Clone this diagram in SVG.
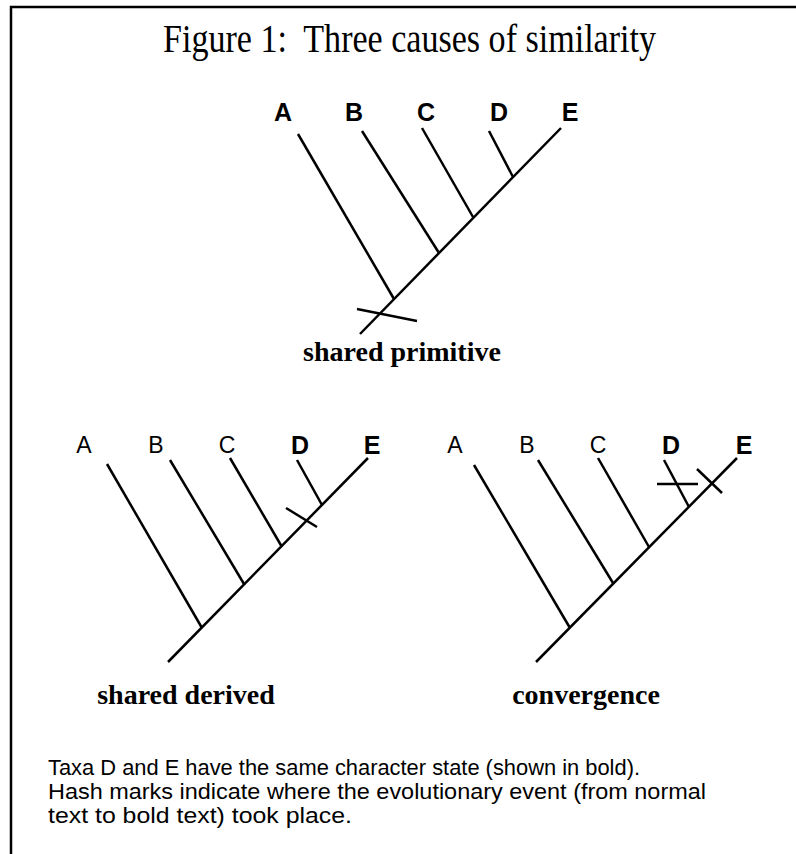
<svg xmlns="http://www.w3.org/2000/svg" width="796" height="854" viewBox="0 0 796 854">
<style>
.br{stroke:#000;stroke-width:2.5;fill:none;stroke-linecap:butt}
.frame{stroke:#000;stroke-width:2.5;fill:none}
.lb{font-family:"Liberation Sans",Arial,sans-serif;font-size:25px;font-weight:bold;text-anchor:middle}
.ln{font-family:"Liberation Sans",Arial,sans-serif;font-size:23px;text-anchor:middle}
.cap{font-family:"Liberation Serif","Times New Roman",serif;font-size:28px;font-weight:bold;text-anchor:middle}
.title{font-family:"Liberation Serif","Times New Roman",serif;font-size:40px}
.note{font-family:"Liberation Sans",Arial,sans-serif;font-size:22px}
</style>
<rect width="796" height="854" fill="#fff"/>
<path class="frame" d="M11,854 V7 H796"/>
<text class="title" x="163" y="52" textLength="493" lengthAdjust="spacingAndGlyphs" xml:space="preserve">Figure 1:  Three causes of similarity</text>

<g id="tree-shared-primitive">
  <g id="connectors-1">
    <line class="br" x1="360" y1="334" x2="561" y2="128"/>
    <line class="br" x1="298" y1="134" x2="394" y2="299"/>
    <line class="br" x1="362" y1="131" x2="439" y2="253"/>
    <line class="br" x1="422" y1="128" x2="473" y2="217"/>
    <line class="br" x1="489" y1="131" x2="513" y2="177"/>
    <line class="br" x1="357" y1="309" x2="417" y2="321"/>
  </g>
  <g id="t1-A"><text class="lb" x="283" y="121">A</text></g>
  <g id="t1-B"><text class="lb" x="354" y="121">B</text></g>
  <g id="t1-C"><text class="lb" x="426" y="121">C</text></g>
  <g id="t1-D"><text class="lb" x="499" y="121">D</text></g>
  <g id="t1-E"><text class="lb" x="570" y="121">E</text></g>
  <g id="t1-caption"><text class="cap" x="402" y="361">shared primitive</text></g>
</g>

<g id="tree-shared-derived">
  <g id="connectors-2">
    <line class="br" x1="168" y1="662" x2="368" y2="458"/>
    <line class="br" x1="107" y1="464" x2="202" y2="628"/>
    <line class="br" x1="170" y1="460" x2="244" y2="584"/>
    <line class="br" x1="230" y1="458" x2="282" y2="547"/>
    <line class="br" x1="297" y1="460" x2="322" y2="505"/>
    <line class="br" x1="286" y1="508" x2="317" y2="527"/>
  </g>
  <g id="t2-A"><text class="ln" x="84" y="453">A</text></g>
  <g id="t2-B"><text class="ln" x="156" y="453">B</text></g>
  <g id="t2-C"><text class="ln" x="227" y="453">C</text></g>
  <g id="t2-D"><text class="lb" x="300" y="454">D</text></g>
  <g id="t2-E"><text class="lb" x="372" y="454">E</text></g>
  <g id="t2-caption"><text class="cap" x="186" y="704">shared derived</text></g>
</g>

<g id="tree-convergence">
  <g id="connectors-3">
    <line class="br" x1="536" y1="662" x2="737" y2="458"/>
    <line class="br" x1="474" y1="465" x2="570" y2="628"/>
    <line class="br" x1="538" y1="460" x2="613" y2="583"/>
    <line class="br" x1="598" y1="458" x2="649" y2="547"/>
    <line class="br" x1="664" y1="460" x2="689" y2="507"/>
    <line class="br" x1="657" y1="484" x2="698" y2="484"/>
    <line class="br" x1="697" y1="469" x2="722" y2="493"/>
  </g>
  <g id="t3-A"><text class="ln" x="455" y="453">A</text></g>
  <g id="t3-B"><text class="ln" x="527" y="453">B</text></g>
  <g id="t3-C"><text class="ln" x="598" y="453">C</text></g>
  <g id="t3-D"><text class="lb" x="671" y="454">D</text></g>
  <g id="t3-E"><text class="lb" x="744" y="454">E</text></g>
  <g id="t3-caption"><text class="cap" x="586" y="704">convergence</text></g>
</g>

<g id="note">
  <text class="note" x="48" y="775" textLength="592" lengthAdjust="spacingAndGlyphs">Taxa D and E have the same character state (shown in bold).</text>
  <text class="note" x="48" y="799" textLength="658" lengthAdjust="spacingAndGlyphs">Hash marks indicate where the evolutionary event (from normal</text>
  <text class="note" x="48" y="823" textLength="304" lengthAdjust="spacingAndGlyphs">text to bold text) took place.</text>
</g>
</svg>
